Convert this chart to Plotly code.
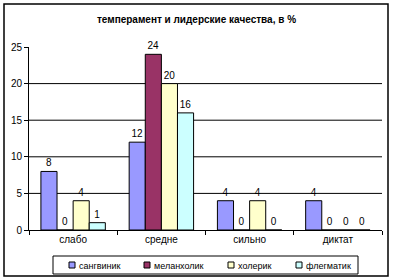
import plotly.graph_objects as go

title = "темперамент и лидерские качества, в %"
categories = ["слабо", "средне", "сильно", "диктат"]
series_names = ["сангвиник", "меланхолик", "холерик", "флегматик"]
sangvinik = [8, 12, 4, 4]
melanholik = [0, 24, 0, 0]
holerik = [4, 20, 4, 0]
flegmatik = [1, 16, 0, 0]
series_values = [sangvinik, melanholik, holerik, flegmatik]
colors = ["#9999FF", "#993366", "#FFFFCC", "#CCFFFF"]
y_ticks = [0, 5, 10, 15, 20, 25]
grid_values = [5, 10, 15, 20]

FONT = "Liberation Sans, Arial, sans-serif"

# layout geometry (pixels)
W, H = 393, 279
ML, MR, MT, MB = 29, 11, 47, 49
PW, PH = W - ML - MR, H - MT - MB


def px_x(px):
    return (px - ML) / PW


def px_y(py):
    return (H - MB - py) / PH


fig = go.Figure()
for name, vals, col in zip(series_names, series_values, colors):
    fig.add_trace(go.Bar(
        x=categories, y=vals, name=name,
        marker=dict(color=col, line=dict(color="black", width=1)),
        text=[str(v) for v in vals], textposition="outside",
        textfont=dict(family=FONT, size=10, color="black"),
        constraintext="none", cliponaxis=False, showlegend=False,
    ))

shapes = []
for g in grid_values:
    shapes.append(dict(type="line", xref="paper", yref="y", x0=0, x1=1, y0=g, y1=g,
                       line=dict(color="black", width=1), layer="below"))
# outer chart border
shapes.append(dict(type="rect", xref="paper", yref="paper",
                   x0=px_x(4), x1=px_x(388), y0=px_y(276), y1=px_y(4),
                   line=dict(color="black", width=1.5), fillcolor="rgba(0,0,0,0)"))

# legend box, drawn by hand to match the original compact legend
shapes.append(dict(type="rect", xref="paper", yref="paper",
                   x0=px_x(53), x1=px_x(358), y0=px_y(274), y1=px_y(256),
                   line=dict(color="black", width=1), fillcolor="white"))
legend_marker_px = [69, 144, 228, 296]
annotations = []
for name, col, mx in zip(series_names, colors, legend_marker_px):
    shapes.append(dict(type="rect", xref="paper", yref="paper",
                       x0=px_x(mx), x1=px_x(mx + 6), y0=px_y(268), y1=px_y(262),
                       line=dict(color="black", width=1), fillcolor=col))
    annotations.append(dict(text=name, xref="paper", yref="paper",
                            x=px_x(mx + 8), y=px_y(265.5), xanchor="left", yanchor="middle",
                            showarrow=False,
                            font=dict(family=FONT, size=9, color="black")))

fig.update_layout(
    width=W, height=H,
    margin=dict(l=ML, r=MR, t=MT, b=MB, autoexpand=False),
    paper_bgcolor="white", plot_bgcolor="white",
    font=dict(family=FONT, size=10, color="black"),
    title=dict(text="<b>" + title + "</b>", x=0.5, xanchor="center", y=0.93, yanchor="middle",
               font=dict(family=FONT, size=10, color="black")),
    barmode="group", bargap=0.27, bargroupgap=0,
    showlegend=False,
    shapes=shapes,
    annotations=annotations,
    xaxis=dict(showline=True, linecolor="black", linewidth=1, ticks="outside",
               ticklen=4, tickcolor="black", tickson="boundaries", showgrid=False,
               tickfont=dict(family=FONT, size=10, color="black")),
    yaxis=dict(range=[0, 25], tickvals=y_ticks, showline=True, linecolor="black",
               linewidth=1, ticks="outside", ticklen=4, tickcolor="black",
               showgrid=False, zeroline=False,
               tickfont=dict(family=FONT, size=10, color="black")),
)

fig.write_html("out.html")
